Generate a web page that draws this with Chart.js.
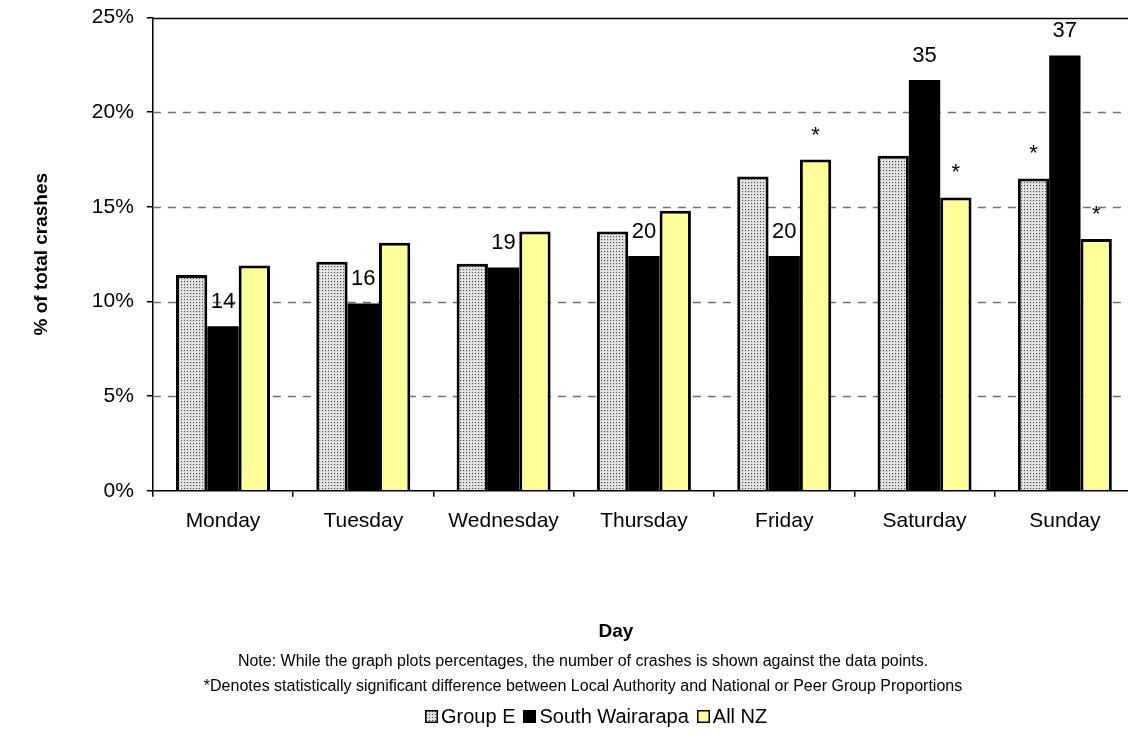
<!DOCTYPE html>
<html>
<head>
<meta charset="utf-8">
<script src="https://cdn.jsdelivr.net/npm/chart.js@4/dist/chart.umd.min.js"></script>
<style>
  html, body { margin: 0; padding: 0; background: #fff; overflow: hidden; }
  #wrap { position: relative; width: 1128px; height: 741px; overflow: hidden; }
  #wrap > canvas { position: absolute; left: 0; top: -8px; }
  .txt { position: absolute; font-family: "Liberation Sans", Arial, sans-serif; color: #000; white-space: nowrap; }
  #xtitle { top: 620px; left: 616px; transform: translateX(-50%); font-size: 19px; font-weight: bold; }
  .note { left: 583px; transform: translateX(-50%); font-size: 16px; }
  #legend { top: 705px; left: 425px; font-size: 20px; display: flex; align-items: center; }
  #legend span.item { display: flex; align-items: center; margin-right: 8px; }
  #legend canvas { margin-right: 3px; }
</style>
</head>
<body>
<div id="wrap">
  <canvas id="day_chart" width="1140" height="749"></canvas>
  <div id="xtitle" class="txt">Day</div>
  <div class="txt note" style="top: 652px;">Note: While the graph plots percentages, the number of crashes is shown against the data points.</div>
  <div class="txt note" style="top: 677px;">*Denotes statistically significant difference between Local Authority and National or Peer Group Proportions</div>
  <div id="legend" class="txt"></div>
</div>
<script>
const days = ['Monday', 'Tuesday', 'Wednesday', 'Thursday', 'Friday', 'Saturday', 'Sunday'];
const groupE = [11.4, 12.1, 12.0, 13.7, 16.6, 17.7, 16.5];
const southWairarapa = [8.7, 9.9, 11.8, 12.4, 12.4, 21.7, 23.0];
const allNZ = [11.9, 13.1, 13.7, 14.8, 17.5, 15.5, 13.3];

// text printed above each bar: crash counts for South Wairarapa, * for significance
const groupELabels = ['', '', '', '', '', '', '*'];
const swCounts = ['14', '16', '19', '20', '20', '35', '37'];
const allNZLabels = ['', '', '', '', '*', '*', '*'];

const yTicks = [0, 5, 10, 15, 20, 25];

const FONT = '"Liberation Sans", Arial, sans-serif';

// fine grey dot fill for the peer group bars
function dotPattern() {
    const c = document.createElement('canvas');
    c.width = 3;
    c.height = 3;
    const g = c.getContext('2d');
    g.fillStyle = '#dadada';
    g.fillRect(0, 0, 3, 3);
    g.fillStyle = '#ffffff';
    g.fillRect(0, 0, 1, 1);
    g.fillStyle = '#4c4c4c';
    g.fillRect(1, 1, 1, 1);
    return document.getElementById('day_chart').getContext('2d').createPattern(c, 'repeat');
}

const barLabels = [groupELabels, swCounts, allNZLabels];

const gridLines = {
    id: 'gridLines',
    beforeDatasetsDraw(chart) {
        const { ctx, chartArea } = chart;
        const y = chart.scales.y;
        ctx.save();
        yTicks.forEach((v) => {
            if (v === 0) return;
            const py = Math.round(y.getPixelForValue(v)) + 0.5;
            ctx.beginPath();
            if (v === 25) {
                ctx.setLineDash([]);
                ctx.strokeStyle = '#000';
                ctx.lineWidth = 1.5;
            } else {
                ctx.setLineDash([8, 7]);
                ctx.strokeStyle = '#707070';
                ctx.lineWidth = 1.3;
            }
            ctx.moveTo(chartArea.left, py);
            ctx.lineTo(chartArea.right, py);
            ctx.stroke();
        });
        ctx.restore();
    }
};

const valueLabels = {
    id: 'valueLabels',
    afterDatasetsDraw(chart) {
        const { ctx } = chart;
        ctx.save();
        ctx.font = '22px ' + FONT;
        ctx.fillStyle = '#000';
        ctx.textAlign = 'center';
        ctx.textBaseline = 'alphabetic';
        chart.data.datasets.forEach((ds, i) => {
            chart.getDatasetMeta(i).data.forEach((bar, j) => {
                const t = barLabels[i][j];
                if (t) ctx.fillText(t, bar.x, bar.y - 18);
            });
        });
        ctx.restore();
    }
};

const chart = new Chart(document.getElementById('day_chart'), {
    type: 'bar',
    data: {
        labels: days,
        datasets: [{
            label: 'Group E',
            data: groupE,
            backgroundColor: dotPattern(),
            borderColor: '#000',
            borderWidth: 3
        }, {
            label: 'South Wairarapa',
            data: southWairarapa,
            backgroundColor: '#000',
            borderColor: '#000',
            borderWidth: 0
        }, {
            label: 'All NZ',
            data: allNZ,
            backgroundColor: '#ffff99',
            borderColor: '#000',
            borderWidth: 3
        }]
    },
    options: {
        responsive: false,
        animation: false,
        layout: { padding: { top: 10, left: 30, right: 5, bottom: 195 } },
        datasets: {
            bar: { categoryPercentage: 0.67, barPercentage: 1 }
        },
        plugins: {
            legend: { display: false },
            tooltip: { enabled: false }
        },
        scales: {
            x: {
                grid: { offset: true, drawOnChartArea: false, tickLength: 6, color: '#000', lineWidth: 1.5 },
                border: { color: '#000', width: 1.5 },
                ticks: { color: '#000', padding: 12, font: { family: FONT, size: 21 } }
            },
            y: {
                min: 0,
                max: 25,
                afterBuildTicks: (scale) => { scale.ticks = yTicks.map((v) => ({ value: v })); },
                grid: { drawOnChartArea: false, tickLength: 6, color: '#000', lineWidth: 1.5 },
                border: { color: '#000', width: 1.5 },
                ticks: {
                    color: '#000',
                    padding: 13,
                    font: { family: FONT, size: 21 },
                    callback: (v) => v + '%'
                },
                title: {
                    display: true,
                    text: '% of total crashes',
                    color: '#000',
                    font: { family: FONT, size: 19, weight: 'bold' },
                    padding: { top: 0, bottom: 26 }
                }
            }
        }
    },
    plugins: [gridLines, valueLabels]
});

// legend row built from the datasets so the swatches share their fills
const legend = document.getElementById('legend');
chart.data.datasets.forEach((ds) => {
    const item = document.createElement('span');
    item.className = 'item';
    const sw = document.createElement('canvas');
    sw.width = 13;
    sw.height = 13;
    const g = sw.getContext('2d');
    g.fillStyle = ds.backgroundColor;
    g.fillRect(0, 0, 13, 13);
    g.strokeStyle = '#000';
    g.lineWidth = 1.5;
    g.strokeRect(0.75, 0.75, 11.5, 11.5);
    item.appendChild(sw);
    item.appendChild(document.createTextNode(ds.label));
    legend.appendChild(item);
});
</script>
</body>
</html>
